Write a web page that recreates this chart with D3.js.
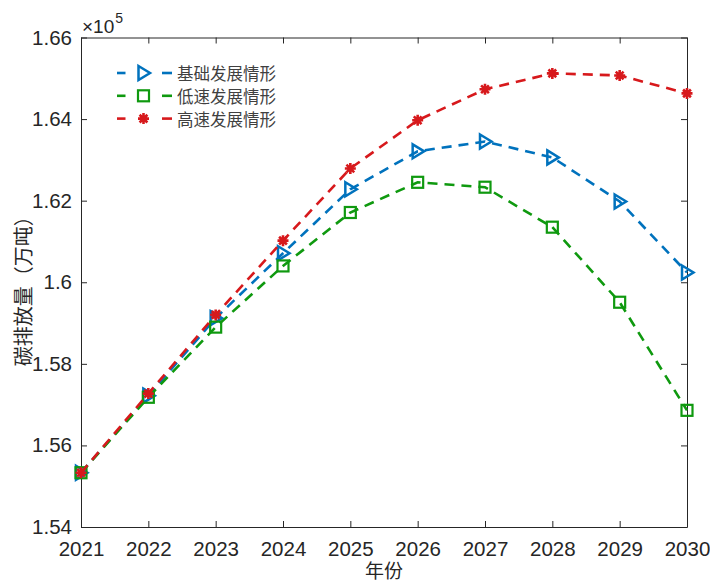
<!DOCTYPE html>
<html>
<head>
<meta charset="utf-8">
<script src="https://cdn.jsdelivr.net/npm/d3@7"></script>
<style>
  body { margin: 0; background: #fff; }
  svg { display: block; }
  .tick text { font-family: "Liberation Sans Narrow", "Liberation Sans", Arial, sans-serif; }
</style>
</head>
<body>
<div id="chart"></div>
<script>
// data (x10^5 万吨)
const years = [2021, 2022, 2023, 2024, 2025, 2026, 2027, 2028, 2029, 2030];
const baseCase = [1.5533, 1.5722, 1.5912, 1.6071, 1.6228, 1.6321, 1.6345, 1.6306, 1.6198, 1.6024];
const lowCase = [1.5533, 1.5718, 1.5890, 1.6040, 1.6171, 1.6245, 1.6233, 1.6135, 1.5951, 1.5686];
const highCase = [1.5533, 1.5727, 1.5920, 1.6102, 1.6279, 1.6397, 1.6473, 1.6512, 1.6507, 1.6463];
const yTicks = [1.54, 1.56, 1.58, 1.6, 1.62, 1.64, 1.66];
const seriesNames = ["基础发展情形", "低速发展情形", "高速发展情形"];

const series = [
  { name: seriesNames[0], values: baseCase, color: "#0072bd", marker: "tri" },
  { name: seriesNames[1], values: lowCase, color: "#0f990f", marker: "square" },
  { name: seriesNames[2], values: highCase, color: "#d7191c", marker: "star" },
];

const W = 710, H = 586;
const margin = { top: 37.5, right: 23, bottom: 59, left: 81 };
const width = W - margin.left - margin.right,
  height = H - margin.top - margin.bottom;
const axisColor = "#262626";
const numFont = '"Liberation Sans Narrow", "Liberation Sans", Arial, sans-serif';
const cjkFont = '"Noto Sans CJK SC", "Noto Sans", sans-serif';

const svg = d3.select("#chart").append("svg").attr("width", W).attr("height", H);
const g = svg.append("g").attr("transform", `translate(${margin.left},${margin.top})`);

const x = d3.scaleLinear().domain([2021, 2030]).range([0, width]);
const y = d3.scaleLinear().domain([1.54, 1.66]).range([height, 0]);

// axes, ticks pointing inward, mirrored on top/right
const xAxis = d3.axisBottom(x).tickValues(years).tickFormat(d3.format("d")).tickSizeInner(-6).tickSizeOuter(0).tickPadding(14);
const yAxis = d3.axisLeft(y).tickValues(yTicks).tickFormat((d) => d3.format("")(+d.toFixed(2))).tickSizeInner(-6).tickSizeOuter(0).tickPadding(9);

const gx = g.append("g").attr("transform", `translate(0,${height})`).call(xAxis);
const gy = g.append("g").call(yAxis);
const gxTop = g.append("g").call(d3.axisTop(x).tickValues(years).tickSizeInner(-6).tickSizeOuter(0).tickFormat(""));
const gyRight = g.append("g").attr("transform", `translate(${width},0)`).call(d3.axisRight(y).tickValues(yTicks).tickSizeInner(-6).tickSizeOuter(0).tickFormat(""));

[gx, gy, gxTop, gyRight].forEach((a) => {
  a.select(".domain").attr("stroke", axisColor).attr("stroke-width", 1);
  a.selectAll(".tick line").attr("stroke", axisColor).attr("stroke-width", 1);
  a.selectAll(".tick text").attr("fill", axisColor).attr("font-size", 20.5);
});

// exponent label
const expo = g.append("text").attr("x", 1).attr("y", -5).attr("fill", axisColor).attr("font-family", numFont);
expo.append("tspan").attr("font-size", 19).text("×10");
expo.append("tspan").attr("font-size", 14).attr("dy", -10).attr("dx", 1).text("5");

// axis titles
g.append("text")
  .attr("x", width / 2)
  .attr("y", height + 51)
  .attr("text-anchor", "middle")
  .attr("fill", axisColor)
  .attr("font-family", cjkFont)
  .attr("font-size", 19)
  .text("年份");

g.append("text")
  .attr("transform", `translate(${22 - margin.left},${height / 2 + 4}) rotate(-90)`)
  .attr("text-anchor", "middle")
  .attr("dominant-baseline", "central")
  .attr("fill", axisColor)
  .attr("font-family", cjkFont)
  .attr("font-size", 20)
  .text("碳排放量（万吨）");

// markers
function drawMarker(sel, type, color) {
  if (type === "tri") {
    sel.append("path").attr("d", "M-5,-7L6.5,0L-5,7Z")
      .attr("fill", "none").attr("stroke", color).attr("stroke-width", 2.5).attr("stroke-linejoin", "miter");
  } else if (type === "square") {
    sel.append("rect").attr("x", -5.5).attr("y", -5.5).attr("width", 11).attr("height", 11)
      .attr("fill", "none").attr("stroke", color).attr("stroke-width", 2.2);
  } else {
    const r = 5.5, d = r * Math.SQRT1_2;
    sel.append("path")
      .attr("d", `M${-r},0L${r},0M0,${-r}L0,${r}M${-d},${-d}L${d},${d}M${-d},${d}L${d},${-d}`)
      .attr("stroke", color).attr("stroke-width", 2.6).attr("fill", "none");
  }
}

const line = d3.line().x((d, i) => x(years[i])).y((d) => y(d));

series.forEach((s) => {
  const sg = g.append("g");
  sg.append("path")
    .datum(s.values)
    .attr("d", line)
    .attr("fill", "none")
    .attr("stroke", s.color)
    .attr("stroke-width", 2.6)
    .attr("stroke-dasharray", "10,7");
  sg.selectAll("g.mk")
    .data(s.values)
    .join("g")
    .attr("class", "mk")
    .attr("transform", (d, i) => `translate(${x(years[i])},${y(d)})`)
    .each(function () { drawMarker(d3.select(this), s.marker, s.color); });
});

// legend (no box)
const legend = g.append("g").attr("transform", `translate(${117 - margin.left},${73 - margin.top})`);
series.forEach((s, i) => {
  const row = legend.append("g").attr("transform", `translate(0,${i * 22.8})`);
  row.append("line").attr("x1", 0).attr("x2", 8.5).attr("stroke", s.color).attr("stroke-width", 2.6);
  row.append("line").attr("x1", 45).attr("x2", 55).attr("stroke", s.color).attr("stroke-width", 2.6);
  const m = row.append("g").attr("transform", "translate(26.5,0)");
  drawMarker(m, s.marker, s.color);
  row.append("text")
    .attr("x", 60)
    .attr("y", 0)
    .attr("dominant-baseline", "central")
    .attr("fill", "#404040")
    .attr("font-family", cjkFont)
    .attr("font-size", 16.5)
    .text(s.name);
});
</script>
</body>
</html>
